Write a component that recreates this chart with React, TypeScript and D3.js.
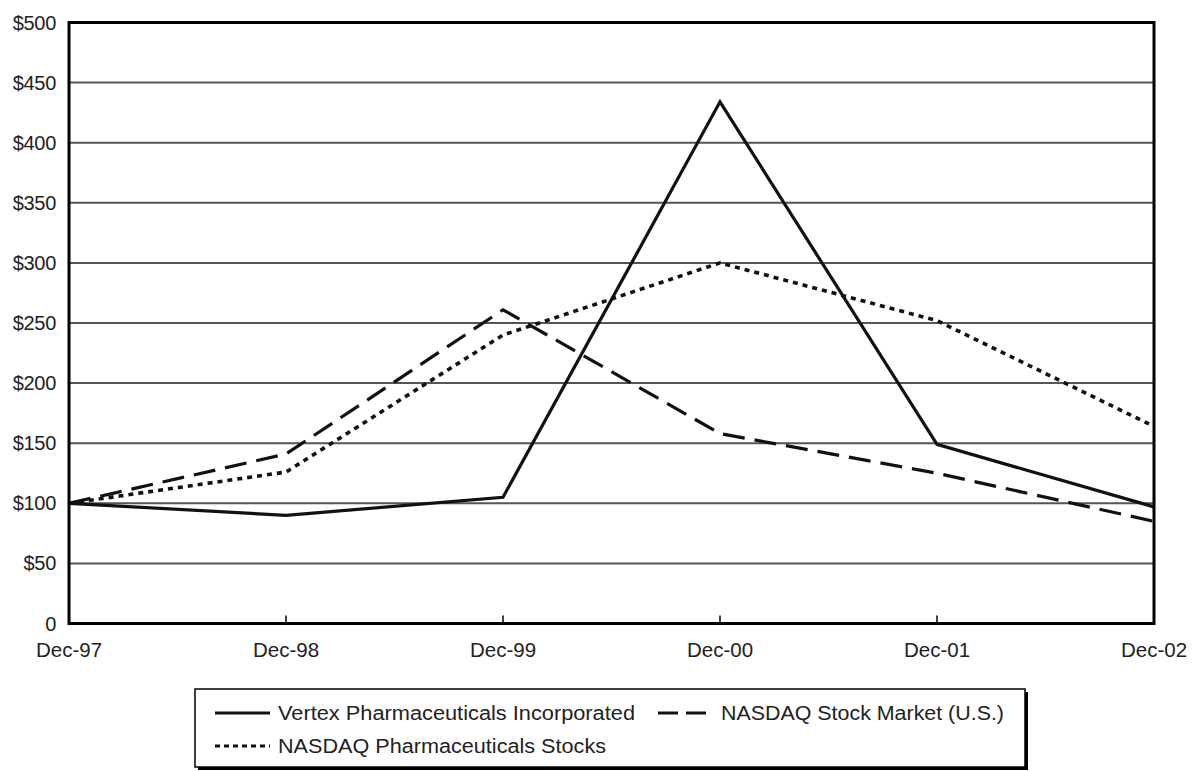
import React, { useEffect, useRef } from 'react';
import { line, scaleLinear, scalePoint, select } from 'd3';

const periods = ['Dec-97', 'Dec-98', 'Dec-99', 'Dec-00', 'Dec-01', 'Dec-02'];
const vertex = [100, 90, 105, 434, 149, 97];
const nasdaqMarket = [100, 141, 261, 158, 125, 85];
const nasdaqPharma = [100, 126, 240, 300, 252, 164];
const yTicks = [0, 50, 100, 150, 200, 250, 300, 350, 400, 450, 500];

const seriesNames = [
  'Vertex Pharmaceuticals Incorporated',
  'NASDAQ Stock Market (U.S.)',
  'NASDAQ Pharmaceuticals Stocks',
];

const W = 1198;
const H = 771;
const FONT = '"Liberation Sans", Arial, Helvetica, sans-serif';

function renderChart(el: SVGSVGElement) {
  const svg = select(el);
  svg.selectAll('*').remove();

  const left = 69;
  const right = 1154;
  const top = 22.5;
  const bottom = 623.5;

  const x = scalePoint<string>().domain(periods).range([left, right]);
  const y = scaleLinear().domain([0, 500]).range([bottom, top]);

  svg.append('rect').attr('width', W).attr('height', H).attr('fill', '#fff');

  // gridlines
  svg
    .selectAll('line.grid')
    .data(yTicks.filter(t => t > 0 && t < 500))
    .join('line')
    .attr('class', 'grid')
    .attr('x1', left)
    .attr('x2', right)
    .attr('y1', d => y(d))
    .attr('y2', d => y(d))
    .attr('stroke', '#555')
    .attr('stroke-width', 2);

  // x ticks (inside, from the bottom axis)
  svg
    .selectAll('line.xtick')
    .data(periods.slice(1, -1))
    .join('line')
    .attr('x1', d => x(d) ?? 0)
    .attr('x2', d => x(d) ?? 0)
    .attr('y1', bottom)
    .attr('y2', bottom - 8)
    .attr('stroke', '#000')
    .attr('stroke-width', 1.5);

  // y labels
  svg
    .selectAll('text.ylab')
    .data(yTicks)
    .join('text')
    .attr('x', 56)
    .attr('y', d => y(d))
    .attr('dy', '0.35em')
    .attr('text-anchor', 'end')
    .attr('font-family', FONT)
    .attr('font-size', 20)
    .attr('letter-spacing', -0.3)
    .attr('fill', '#222')
    .text(d => (d === 0 ? '0' : `$${d}`));

  // x labels
  svg
    .selectAll('text.xlab')
    .data(periods)
    .join('text')
    .attr('x', d => x(d) ?? 0)
    .attr('y', 657)
    .attr('text-anchor', 'middle')
    .attr('font-family', FONT)
    .attr('font-size', 20.5)
    .attr('fill', '#222')
    .text(d => d);

  const styles = [
    { data: vertex, dash: null as string | null, w: 3.2 },
    { data: nasdaqMarket, dash: '22,10', w: 3.2 },
    { data: nasdaqPharma, dash: '5,5', w: 3.6 },
  ];

  const path = line<number>()
    .x((_, i) => x(periods[i]) ?? 0)
    .y(d => y(d));

  styles.forEach(s => {
    svg
      .append('path')
      .attr('d', path(s.data) ?? '')
      .attr('fill', 'none')
      .attr('stroke', '#111')
      .attr('stroke-width', s.w)
      .attr('stroke-dasharray', s.dash)
      .attr('stroke-linejoin', 'miter');
  });

  // frame
  svg
    .append('rect')
    .attr('x', left)
    .attr('y', top)
    .attr('width', right - left)
    .attr('height', bottom - top)
    .attr('fill', 'none')
    .attr('stroke', '#000')
    .attr('stroke-width', 3);

  // legend
  const lg = svg.append('g');
  lg.append('rect')
    .attr('x', 198)
    .attr('y', 692)
    .attr('width', 830)
    .attr('height', 78)
    .attr('fill', '#000');
  lg.append('rect')
    .attr('x', 195)
    .attr('y', 689)
    .attr('width', 830)
    .attr('height', 78)
    .attr('fill', '#fff')
    .attr('stroke', '#000')
    .attr('stroke-width', 1.5);

  const items = [
    { x: 215, y: 713, dash: null as string | null, w: 357 },
    { x: 658, y: 713, dash: '20,8', w: 283 },
    { x: 215, y: 746, dash: '5,4', w: 328 },
  ];
  items.forEach((it, i) => {
    lg.append('line')
      .attr('x1', it.x)
      .attr('x2', it.x + 55)
      .attr('y1', it.y)
      .attr('y2', it.y)
      .attr('stroke', '#111')
      .attr('stroke-width', 3)
      .attr('stroke-dasharray', it.dash);
    lg.append('text')
      .attr('x', it.x + 63)
      .attr('y', it.y)
      .attr('dy', '0.35em')
      .attr('font-family', FONT)
      .attr('font-size', 20)
      .attr('fill', '#222')
      .attr('textLength', it.w)
      .attr('lengthAdjust', 'spacingAndGlyphs')
      .text(seriesNames[i]);
  });
}

export default function App() {
  const ref = useRef<SVGSVGElement>(null);
  useEffect(() => {
    if (ref.current) renderChart(ref.current);
  }, []);
  return (
    <svg
      ref={ref}
      width={W}
      height={H}
      style={{ position: 'absolute', left: 0, top: 0, display: 'block' }}
    />
  );
}
